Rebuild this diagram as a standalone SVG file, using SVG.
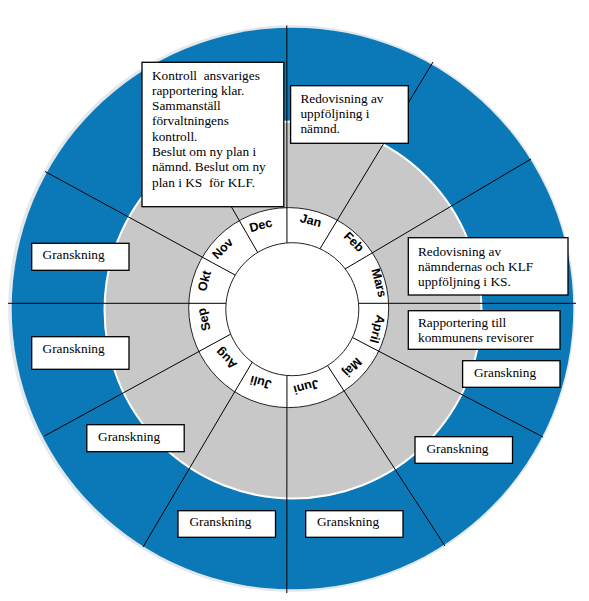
<svg xmlns="http://www.w3.org/2000/svg" width="589" height="601" viewBox="0 0 589 601">
<style>
.box{fill:#fff;stroke:#000;stroke-width:1.3}
.t{font-family:"Liberation Serif","Times New Roman",serif;font-size:13.3px;fill:#000}
.m{font-family:"Liberation Sans",Arial,sans-serif;font-size:12.5px;font-weight:bold;text-anchor:middle;fill:#000}
.ln{stroke:#000;stroke-width:1;fill:none}
.ring{fill:#fff;stroke:#222;stroke-width:1}
</style>
<rect width="589" height="601" fill="#fff"/>
<g id="wheel">
<circle cx="291.5" cy="308.5" r="283.3" fill="#e2e8ec"/>
<circle cx="292.5" cy="308.5" r="280.8" fill="#0b78b8"/>
<circle cx="293" cy="310" r="188.5" fill="#c8c8c8" stroke="#fff" stroke-width="2"/>
<circle class="ring" cx="288.7" cy="307.6" r="100"/>
</g>
<g id="connectors">
<line class="ln" x1="287" y1="303.3" x2="286.8" y2="25.5"/>
<line class="ln" x1="287" y1="303.3" x2="433" y2="62"/>
<line class="ln" x1="287" y1="303.3" x2="531" y2="159"/>
<line class="ln" x1="287" y1="303.3" x2="576" y2="303.3"/>
<line class="ln" x1="287" y1="303.3" x2="543" y2="437"/>
<line class="ln" x1="287" y1="303.3" x2="445" y2="546"/>
<line class="ln" x1="287" y1="303.3" x2="286.8" y2="593"/>
<line class="ln" x1="287" y1="303.3" x2="143" y2="547"/>
<line class="ln" x1="287" y1="303.3" x2="44.5" y2="436"/>
<line class="ln" x1="287" y1="303.3" x2="8" y2="303.3"/>
<line class="ln" x1="287" y1="303.3" x2="45" y2="171.5"/>
<line class="ln" x1="287" y1="303.3" x2="149" y2="64"/>
</g>
<g id="hub">
<circle class="ring" cx="292.3" cy="309.2" r="66.5"/>
</g>
<g id="months">
<text class="m" transform="translate(310.8,220.3) rotate(15)" y="4.3">Jan</text>
<text class="m" transform="translate(354,241.7) rotate(45)" y="4.3">Feb</text>
<text class="m" transform="translate(379.2,282.8) rotate(75)" y="4.3">Mars</text>
<text class="m" transform="translate(377.5,329.2) rotate(105)" y="4.3">April</text>
<text class="m" transform="translate(352.5,367.5) rotate(135)" y="4.3">Maj</text>
<text class="m" transform="translate(306.2,387) rotate(165)" y="4.3">Juni</text>
<text class="m" transform="translate(260.8,382.5) rotate(195)" y="4.3">Juli</text>
<text class="m" transform="translate(226.2,358.5) rotate(225)" y="4.3">Aug</text>
<text class="m" transform="translate(203.7,319.5) rotate(255)" y="4.3">Sep</text>
<text class="m" transform="translate(204.2,280.8) rotate(285)" y="4.3">Okt</text>
<text class="m" transform="translate(222.5,248.3) rotate(315)" y="4.3">Nov</text>
<text class="m" transform="translate(260.8,225) rotate(345)" y="4.3">Dec</text>
</g>
<g id="box-dec">
<rect class="box" x="142" y="62.3" width="141.8" height="144.4"/>
<text class="t" x="152" y="79.5" xml:space="preserve">Kontroll  ansvariges</text>
<text class="t" x="152" y="94.8">rapportering klar.</text>
<text class="t" x="152" y="110.1">Sammanställ</text>
<text class="t" x="152" y="125.4">förvaltningens</text>
<text class="t" x="152" y="140.7">kontroll.</text>
<text class="t" x="152" y="156">Beslut om ny plan i</text>
<text class="t" x="152" y="171.3">nämnd. Beslut om ny</text>
<text class="t" x="152" y="186.6" xml:space="preserve">plan i KS  för KLF.</text>
</g>
<g id="box-jan">
<rect class="box" x="290.6" y="85.7" width="117.7" height="57.6"/>
<text class="t" x="300.4" y="103">Redovisning av</text>
<text class="t" x="300.4" y="118.2">uppföljning i</text>
<text class="t" x="300.4" y="133.4">nämnd.</text>
</g>
<g id="box-mars">
<rect class="box" x="408.3" y="237.7" width="159.7" height="57.3"/>
<text class="t" x="418" y="255.5">Redovisning av</text>
<text class="t" x="418" y="270.5">nämndernas och KLF</text>
<text class="t" x="418" y="285.5">uppföljning i KS.</text>
</g>
<g id="box-april">
<rect class="box" x="408.3" y="310.7" width="151.7" height="38.6"/>
<text class="t" x="418" y="327.2">Rapportering till</text>
<text class="t" x="418" y="342.2">kommunens revisorer</text>
</g>
<g id="box-maj">
<rect class="box" x="462.6" y="360.7" width="97.4" height="26.6"/>
<text class="t" x="474" y="376.5">Granskning</text>
</g>
<g id="box-maj2">
<rect class="box" x="415" y="436.7" width="97.5" height="26.6"/>
<text class="t" x="426.4" y="452.8">Granskning</text>
</g>
<g id="box-juni">
<rect class="box" x="305.7" y="510.7" width="97.3" height="26.6"/>
<text class="t" x="317" y="526">Granskning</text>
</g>
<g id="box-juli">
<rect class="box" x="178" y="510.7" width="97.5" height="26.6"/>
<text class="t" x="189.4" y="526">Granskning</text>
</g>
<g id="box-aug">
<rect class="box" x="86.8" y="424.7" width="97.4" height="27"/>
<text class="t" x="98.1" y="440.5">Granskning</text>
</g>
<g id="box-sep">
<rect class="box" x="31.7" y="336.7" width="97.3" height="32.6"/>
<text class="t" x="42.6" y="352.8">Granskning</text>
</g>
<g id="box-okt">
<rect class="box" x="31.7" y="243.3" width="97.3" height="27"/>
<text class="t" x="42.6" y="258.8">Granskning</text>
</g>
</svg>
